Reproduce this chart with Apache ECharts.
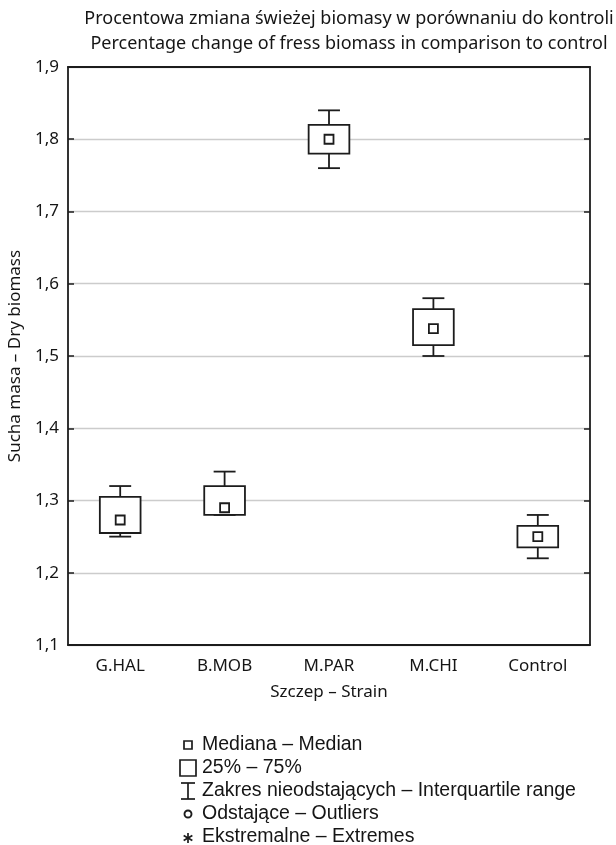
<!DOCTYPE html>
<html>
<head>
<meta charset="utf-8">
<title>Sucha masa – Dry biomass</title>
<script src="https://cdn.jsdelivr.net/npm/echarts@6/dist/echarts.min.js"></script>
<style>
  html, body { margin: 0; padding: 0; background: #fff; }
  #chart { width: 616px; height: 845px; }
</style>
</head>
<body>
<div id="chart"></div>
<script>
// szczepy (kategorie osi X)
var categories = ['G.HAL', 'B.MOB', 'M.PAR', 'M.CHI', 'Control'];
// statystyki wykresu ramka-wąsy
var whiskerLow  = [1.250, 1.280, 1.760, 1.500, 1.220];
var q1          = [1.255, 1.280, 1.780, 1.515, 1.235];
var median      = [1.273, 1.290, 1.800, 1.538, 1.250];
var q3          = [1.305, 1.320, 1.820, 1.565, 1.265];
var whiskerHigh = [1.320, 1.340, 1.840, 1.580, 1.280];
// oś Y
var yMin = 1.1, yMax = 1.9, yStep = 0.1;

var titleLines = [
  'Procentowa zmiana świeżej biomasy w porównaniu do kontroli',
  'Percentage change of fress biomass in comparison to control'
];
var legendLabels = [
  'Mediana – Median',
  '25% – 75%',
  'Zakres nieodstających – Interquartile range',
  'Odstające – Outliers',
  'Ekstremalne – Extremes'
];

var INK = '#1c1c1c';
var FONT = '"Noto Sans", "Open Sans", sans-serif';

var boxData = categories.map(function (c, i) {
  return [i, whiskerLow[i], q1[i], median[i], q3[i], whiskerHigh[i]];
});

function renderBox(params, api) {
  var x = api.value(0);
  var pLow = api.coord([x, api.value(1)]);
  var pQ1 = api.coord([x, api.value(2)]);
  var pMed = api.coord([x, api.value(3)]);
  var pQ3 = api.coord([x, api.value(4)]);
  var pHigh = api.coord([x, api.value(5)]);
  var band = api.size([1, 0])[0];
  var bw = band * 0.39, cw = band * 0.21, ms = 9;
  var cx = pMed[0];
  var st = { stroke: INK, fill: 'none', lineWidth: 1.8 };
  return {
    type: 'group',
    children: [
      { type: 'line', shape: { x1: cx, y1: pQ3[1], x2: cx, y2: pHigh[1] }, style: st },
      { type: 'line', shape: { x1: cx - cw / 2, y1: pHigh[1], x2: cx + cw / 2, y2: pHigh[1] }, style: st },
      { type: 'line', shape: { x1: cx, y1: pQ1[1], x2: cx, y2: pLow[1] }, style: st },
      { type: 'line', shape: { x1: cx - cw / 2, y1: pLow[1], x2: cx + cw / 2, y2: pLow[1] }, style: st },
      { type: 'rect', shape: { x: cx - bw / 2, y: pQ3[1], width: bw, height: pQ1[1] - pQ3[1] }, style: { stroke: INK, fill: '#fff', lineWidth: 1.8 } },
      { type: 'rect', shape: { x: cx - ms / 2, y: pMed[1] - ms / 2, width: ms, height: ms }, style: st }
    ]
  };
}

// legenda rysowana ręcznie (symbole + tekst)
var legX = 188, legTextX = 202, legY0 = 745, legDy = 23;
var legendGraphics = [];
var sym = { stroke: INK, fill: 'none', lineWidth: 1.7 };
legendGraphics.push({ type: 'rect', shape: { x: legX - 4, y: legY0 - 4, width: 8, height: 8 }, style: sym });
legendGraphics.push({ type: 'rect', shape: { x: legX - 8, y: legY0 + legDy - 8, width: 16, height: 16 }, style: sym });
var iy = legY0 + 2 * legDy;
legendGraphics.push({ type: 'line', shape: { x1: legX - 7, y1: iy - 8, x2: legX + 7, y2: iy - 8 }, style: sym });
legendGraphics.push({ type: 'line', shape: { x1: legX, y1: iy - 8, x2: legX, y2: iy + 8 }, style: sym });
legendGraphics.push({ type: 'line', shape: { x1: legX - 7, y1: iy + 8, x2: legX + 7, y2: iy + 8 }, style: sym });
legendGraphics.push({ type: 'circle', shape: { cx: legX, cy: legY0 + 3 * legDy, r: 3.5 }, style: { stroke: INK, fill: 'none', lineWidth: 1.9 } });
var ay = legY0 + 4 * legDy + 1;
[0, 60, 120].forEach(function (a) {
  var r = a * Math.PI / 180, d = 5;
  legendGraphics.push({ type: 'line', shape: { x1: legX - d * Math.sin(r), y1: ay - d * Math.cos(r), x2: legX + d * Math.sin(r), y2: ay + d * Math.cos(r) }, style: sym });
});
legendLabels.forEach(function (t, i) {
  legendGraphics.push({
    type: 'text', x: legTextX, y: legY0 + i * legDy,
    style: { text: t, font: '19.5px "Liberation Sans", Arial, sans-serif', fill: '#151515', verticalAlign: 'middle', textAlign: 'left' }
  });
});
titleLines.forEach(function (t, i) {
  legendGraphics.push({
    type: 'text', x: 349, y: 19 + i * 25,
    style: { text: t, font: '18px ' + FONT, fill: '#151515', verticalAlign: 'middle', textAlign: 'center' }
  });
});

var chart = echarts.init(document.getElementById('chart'), null, { renderer: 'canvas' });
var option = {
  backgroundColor: '#fff',
  animation: false,
  grid: { left: 68, right: 26, top: 67, bottom: 200, outerBoundsMode: 'none', containLabel: false },
  xAxis: [{
    type: 'category',
    data: categories,
    position: 'bottom',
    name: 'Szczep – Strain',
    nameLocation: 'middle',
    nameGap: 39,
    nameTextStyle: { color: '#151515', fontSize: 17, fontFamily: FONT },
    axisLine: { lineStyle: { color: INK, width: 1.8 } },
    axisTick: { inside: true, alignWithLabel: true, length: 6, lineStyle: { color: INK, width: 1.5 } },
    axisLabel: { color: '#151515', fontSize: 17, fontFamily: FONT, margin: 13 },
    splitLine: { show: false }
  }, {
    type: 'category',
    data: categories,
    position: 'top',
    axisLine: { lineStyle: { color: INK, width: 1.8 } },
    axisTick: { inside: true, alignWithLabel: true, length: 6, lineStyle: { color: INK, width: 1.5 } },
    axisLabel: { show: false },
    splitLine: { show: false }
  }],
  yAxis: [{
    type: 'value',
    min: yMin, max: yMax, interval: yStep,
    position: 'left',
    name: 'Sucha masa – Dry biomass',
    nameLocation: 'middle',
    nameGap: 44,
    nameTextStyle: { color: '#151515', fontSize: 17, fontFamily: FONT },
    axisLine: { show: true, lineStyle: { color: INK, width: 1.8 } },
    axisTick: { show: true, inside: true, length: 6, lineStyle: { color: INK, width: 1.5 } },
    axisLabel: {
      color: '#151515', fontSize: 17, fontFamily: FONT, margin: 9,
      formatter: function (v) { return v.toFixed(1).replace('.', ','); }
    },
    splitLine: { show: true, lineStyle: { color: '#cccccc', width: 1.3 } }
  }, {
    type: 'value',
    min: yMin, max: yMax, interval: yStep,
    position: 'right',
    axisLine: { show: true, lineStyle: { color: INK, width: 1.8 } },
    axisTick: { show: true, inside: true, length: 6, lineStyle: { color: INK, width: 1.5 } },
    axisLabel: { show: false },
    splitLine: { show: false }
  }],
  series: [{
    type: 'custom',
    name: 'boxes',
    xAxisIndex: 0,
    yAxisIndex: 0,
    renderItem: renderBox,
    encode: { x: 0, y: [1, 2, 3, 4, 5] },
    data: boxData,
    z: 5
  }],
  graphic: legendGraphics
};
chart.setOption(option);
</script>
</body>
</html>
